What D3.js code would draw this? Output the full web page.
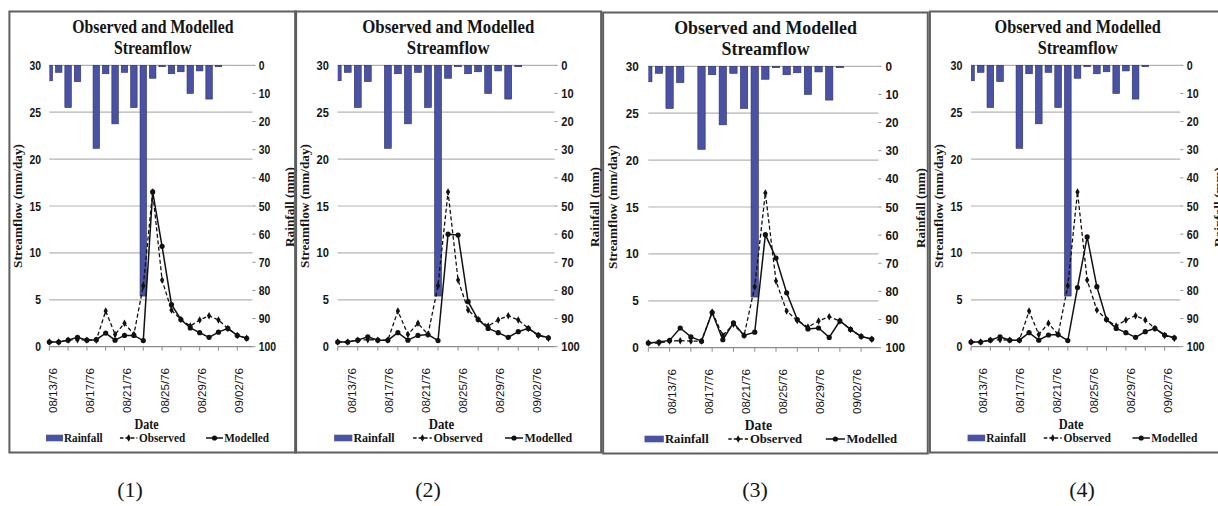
<!DOCTYPE html>
<html>
<head>
<meta charset="utf-8">
<script src="https://cdn.jsdelivr.net/npm/d3@7"></script>
<style>
  html, body { margin: 0; background: #fff; }
  svg { display: block; }
</style>
</head>
<body>
<svg id="fig" width="1218" height="506"></svg>
<script>
// Four panels: observed vs modelled streamflow, rainfall bars hanging from the top (reversed axis)
const dates = ["08/13/76", "08/14/76", "08/15/76", "08/16/76", "08/17/76", "08/18/76", "08/19/76", "08/20/76",
  "08/21/76", "08/22/76", "08/23/76", "08/24/76", "08/25/76", "08/26/76", "08/27/76", "08/28/76",
  "08/29/76", "08/30/76", "08/31/76", "09/01/76", "09/02/76", "09/03/76"];
const dateTicks = ["08/13/76", "08/17/76", "08/21/76", "08/25/76", "08/29/76", "09/02/76"];
const rainfall = [5.5, 2.5, 15, 5.8, 0, 29.5, 3, 20.8, 2.5, 15, 82, 4.6, 0.5, 3, 2.3, 10, 2, 12, 0.5, 0, 0, 0];
const observed = [0.5, 0.5, 0.7, 0.75, 0.7, 0.7, 3.8, 1.3, 2.5, 1.3, 6.5, 16.5, 7.1, 3.9, 2.9, 2.2, 2.85, 3.3, 2.85, 1.95, 1.2, 0.9];
const modelled1 = [0.5, 0.5, 0.7, 1.0, 0.7, 0.75, 1.45, 0.7, 1.2, 1.2, 0.65, 16.5, 10.7, 4.5, 2.9, 2.0, 1.5, 1.0, 1.55, 1.95, 1.2, 0.9];
const modelled2 = [0.5, 0.5, 0.7, 1.05, 0.7, 0.7, 1.5, 0.7, 1.2, 1.3, 0.65, 12.0, 11.9, 4.8, 2.9, 1.95, 1.5, 1.0, 1.6, 1.95, 1.25, 0.95];
const modelled3 = [0.5, 0.6, 0.78, 2.1, 1.15, 0.7, 3.75, 0.85, 2.65, 1.3, 1.65, 12.05, 9.55, 5.85, 3.0, 2.0, 2.1, 1.1, 2.85, 1.95, 1.2, 0.92];
const modelled4 = [0.5, 0.5, 0.7, 1.05, 0.7, 0.7, 1.5, 0.7, 1.25, 1.3, 0.65, 6.3, 11.7, 6.4, 2.9, 1.95, 1.5, 1.0, 1.6, 1.95, 1.25, 0.95];
const streamTicks = [0, 5, 10, 15, 20, 25, 30];
const rainTicks = [0, 10, 20, 30, 40, 50, 60, 70, 80, 90, 100];
const panelNames = ["(1)", "(2)", "(3)", "(4)"];
const modelledRuns = [modelled1, modelled2, modelled3, modelled4];

// layout: each panel is the same chart squeezed horizontally by its own factor (sx)
const LAYOUT = [
  { x0: 49.3, sx: 0.831, dy: 0, lab0: 0.4, labStep: 3.97, capX: 130 },
  { x0: 337.7, sx: 0.887, dy: 0, lab0: 1.4, labStep: 3.7, capX: 428 },
  { x0: 648.3, sx: 0.941, dy: 1, lab0: 2.2, labStep: 3.48, capX: 755 },
  { x0: 971, sx: 0.856, dy: 0, lab0: 1.27, labStep: 3.81, capX: 1082 },
];
// native (unsqueezed) geometry, relative to the first point
const SPAN = 237.5, RIGHT_N = 244.5, BOX_L = -48, BOX_R = 297, BOX_T = 11.5, BOX_B = 452.5;
const Y_TOP = 65.3, Y_BOT = 346.7;

const SERIF = "'Liberation Serif','Times New Roman',serif";
const SANS = "'Liberation Sans',Arial,sans-serif";
const INK = "#151515", GRID = "#b3b3b3", AXIS = "#8c8c8c", BAR = "#4a52a3", BAR_EDGE = "#2b2e66";

const svg = d3.select("#fig");
const defs = svg.append("defs");

function label(g, str, ax, ay, sx, o) {
  const t = g.append("text")
    .attr("transform", `translate(${ax},${ay}) scale(${sx},1)` + (o.rot ? " rotate(-90)" : ""))
    .attr("text-anchor", o.anchor || "start")
    .attr("dy", o.dy || 0)
    .style("font", o.font)
    .attr("fill", o.fill || INK)
    .text(str);
  if (o.len) t.attr("textLength", o.len).attr("lengthAdjust", "spacingAndGlyphs");
  return t;
}

LAYOUT.forEach((p, k) => {
  const g = svg.append("g");
  const nx = v => p.x0 + p.sx * v;
  const x = d3.scaleLinear().domain([0, dates.length - 1]).range([p.x0, nx(SPAN)]);
  const y = d3.scaleLinear().domain([0, 30]).range([Y_BOT + p.dy, Y_TOP + p.dy]);
  const yR = d3.scaleLinear().domain([0, 100]).range([Y_TOP + p.dy, Y_BOT + p.dy]);
  const xL = nx(0), xR = nx(RIGHT_N);

  // frame
  g.append("rect")
    .attr("x", nx(BOX_L)).attr("y", BOX_T + p.dy)
    .attr("width", nx(BOX_R) - nx(BOX_L)).attr("height", BOX_B - BOX_T)
    .attr("fill", "none").attr("stroke", "#5e5e5e").attr("stroke-width", 2);

  // title
  const tf = `bold 19px ${SERIF}`;
  label(g, "Observed and Modelled", nx(124.6), 33.3 + p.dy, p.sx, { anchor: "middle", font: tf });
  label(g, "Streamflow", nx(124.6), 53.5 + p.dy, p.sx, { anchor: "middle", font: tf });

  // gridlines + left tick labels
  streamTicks.forEach(v => {
    if (v > 0) {
      g.append("line").attr("x1", xL).attr("x2", xR).attr("y1", y(v)).attr("y2", y(v))
        .attr("stroke", GRID).attr("stroke-width", 1.2);
    }
    label(g, String(v), nx(-10), y(v), p.sx, { anchor: "end", dy: "0.36em", font: `bold 12.5px ${SANS}` });
  });

  // right (rainfall) axis ticks + labels
  rainTicks.forEach(v => {
    g.append("line").attr("x1", xR).attr("x2", xR + 3).attr("y1", yR(v)).attr("y2", yR(v))
      .attr("stroke", AXIS).attr("stroke-width", 1);
    label(g, String(v), nx(RIGHT_N + 7.5), yR(v), p.sx, { anchor: "start", dy: "0.36em", font: `bold 12.5px ${SANS}` });
  });

  // rainfall bars, clipped at the plot edges
  const cid = "clip" + k;
  defs.append("clipPath").attr("id", cid).append("rect")
    .attr("x", xL).attr("y", 0).attr("width", xR - xL).attr("height", 506);
  const bw = 7.8 * p.sx;
  g.append("g").attr("clip-path", `url(#${cid})`)
    .selectAll("rect").data(rainfall.map((v, i) => ({ v, i })).filter(d => d.v > 0)).join("rect")
    .attr("x", d => x(d.i) - bw / 2).attr("width", bw)
    .attr("y", yR(0)).attr("height", d => yR(d.v) - yR(0))
    .attr("fill", BAR).attr("stroke", BAR_EDGE).attr("stroke-width", 0.6);

  // x axis line + ticks
  g.append("line").attr("x1", xL).attr("x2", xR).attr("y1", y(0)).attr("y2", y(0))
    .attr("stroke", AXIS).attr("stroke-width", 1.3);
  d3.range(0, dates.length, 2).forEach(i => {
    g.append("line").attr("x1", x(i)).attr("x2", x(i)).attr("y1", y(0)).attr("y2", y(0) + 4)
      .attr("stroke", AXIS).attr("stroke-width", 1);
  });

  // date labels (rotated)
  dateTicks.forEach((d, j) => {
    const xi = x(p.lab0 + j * p.labStep);
    label(g, d, xi, Y_BOT + p.dy + 21.3, p.sx, { anchor: "end", rot: true, dy: "0.36em", font: `12.5px ${SANS}`, len: 45 });
  });

  // axis titles
  const af = `bold 14px ${SERIF}`;
  label(g, "Streamflow (mm/day)", nx(-37.8), 206 + p.dy, p.sx, { anchor: "middle", rot: true, dy: "0.35em", font: af, len: 124 });
  label(g, "Rainfall (mm)", nx(289.5), 207 + p.dy, p.sx, { anchor: "middle", rot: true, dy: "0.35em", font: af, len: 80 });
  label(g, "Date", nx(117), 428.5 + p.dy, p.sx, { anchor: "middle", font: `bold 14.5px ${SERIF}` });

  // series
  const line = d3.line().x((d, i) => x(i)).y(d => y(d));
  g.append("path").datum(observed).attr("d", line)
    .attr("fill", "none").attr("stroke", "#111").attr("stroke-width", 1.3).attr("stroke-dasharray", "4,2.5");
  g.append("path").datum(modelledRuns[k]).attr("d", line)
    .attr("fill", "none").attr("stroke", "#111").attr("stroke-width", 1.5);
  const dia = d3.symbol(d3.symbolDiamond, 16);
  g.selectAll(".obs").data(observed).join("path").attr("class", "obs")
    .attr("transform", (d, i) => `translate(${x(i)},${y(d)})`).attr("d", dia).attr("fill", "#111");
  g.selectAll(".mod").data(modelledRuns[k]).join("circle").attr("class", "mod")
    .attr("cx", (d, i) => x(i)).attr("cy", d => y(d)).attr("r", 2.6).attr("fill", "#111");

  // legend
  const ly = 438 + p.dy, lf = `bold 13.5px ${SERIF}`;
  g.append("rect").attr("x", nx(-4)).attr("y", ly - 3.3).attr("width", nx(16.5) - nx(-4)).attr("height", 6.6)
    .attr("fill", BAR);
  label(g, "Rainfall", nx(17.7), ly + 4, p.sx, { font: lf });
  g.append("line").attr("x1", nx(85)).attr("x2", nx(106)).attr("y1", ly).attr("y2", ly)
    .attr("stroke", "#111").attr("stroke-width", 1.3).attr("stroke-dasharray", "3.5,2");
  g.append("path").attr("transform", `translate(${nx(95.5)},${ly})`).attr("d", dia).attr("fill", "#111");
  label(g, "Observed", nx(108), ly + 4, p.sx, { font: lf });
  g.append("line").attr("x1", nx(188.6)).attr("x2", nx(209)).attr("y1", ly).attr("y2", ly)
    .attr("stroke", "#111").attr("stroke-width", 1.5);
  g.append("circle").attr("cx", nx(198.8)).attr("cy", ly).attr("r", 2.6).attr("fill", "#111");
  label(g, "Modelled", nx(210.5), ly + 4, p.sx, { font: lf });

  // panel caption
  svg.append("text").attr("x", p.capX).attr("y", 497).attr("text-anchor", "middle")
    .style("font", `22px ${SERIF}`).attr("fill", INK).text(panelNames[k]);
});
</script>
</body>
</html>
